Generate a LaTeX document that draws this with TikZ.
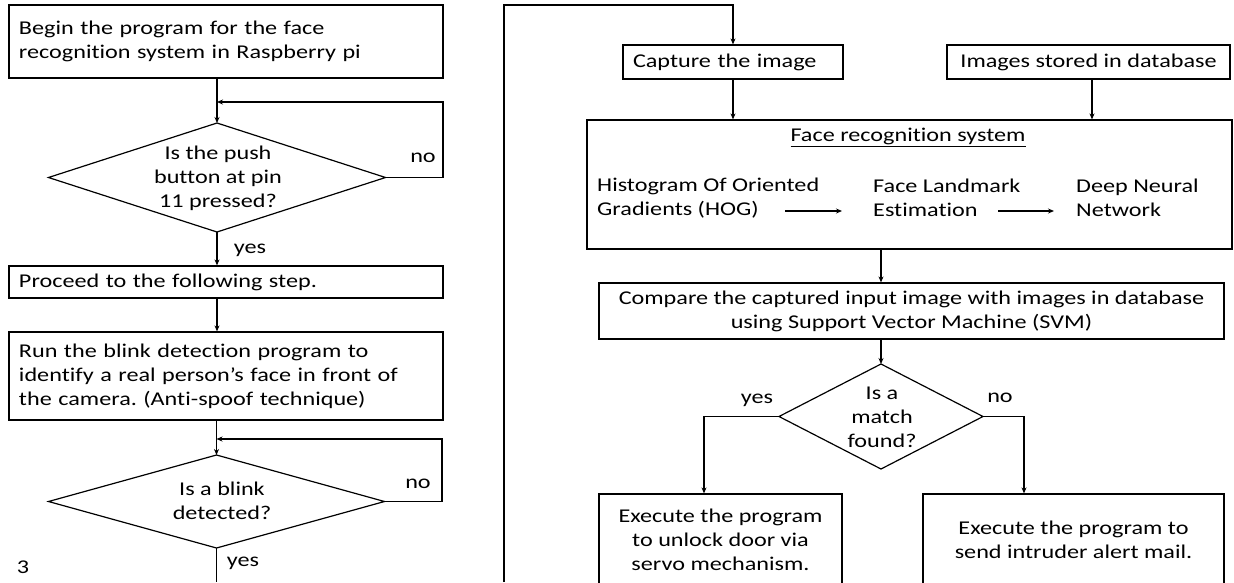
\documentclass[tikz,border=0pt]{standalone}
\usepackage{fontspec}
\setmainfont{Carlito}[FakeStretch=1.24,Ligatures=NoCommon]
\usetikzlibrary{arrows.meta,shapes.geometric}
\frenchspacing
\begin{document}
\begin{tikzpicture}[x=1pt,y=-1pt,
  ff/.style={font=\fontsize{19.5pt}{24pt}\selectfont},
  lbox/.style={ff,draw,rectangle,line width=1.2pt,inner xsep=10pt,inner ysep=0pt,align=left},
  cbox/.style={ff,draw,rectangle,line width=1.2pt,inner xsep=10pt,inner ysep=0pt,align=center},
  dia/.style={draw,diamond,line width=1.2pt,inner sep=0pt,outer sep=0pt},
  txt/.style={ff,inner sep=0pt,align=center},
  ltxt/.style={ff,inner sep=0pt,align=left,anchor=west},
  arr/.style={line width=1.2pt,-{Stealth[length=6pt,width=5pt]}},
  ln/.style={line width=1.2pt}]
\useasboundingbox (0,0) rectangle (1234,582);
\clip (0,0) rectangle (1234,582);
\fill[white] (0,0) rectangle (1234,582);

% ---------- left column ----------
\node[lbox,minimum width=434pt,minimum height=73pt,text width=414pt] (b1) at (226,41.5)
  {Begin the program for the face\\recognition system in Raspberry pi};
\node[dia,minimum width=337pt,minimum height=109pt] (d1) at (217,177.5) {};
\node[txt] (t1) at (218,178) {Is the push\\button at pin\\11 pressed?};
\node[lbox,minimum width=434pt,minimum height=32pt,text width=414pt] (b2) at (226,282)
  {Proceed to the following step.};
\node[lbox,minimum width=434pt,minimum height=88pt,text width=414pt] (b3) at (226,376)
  {Run the blink detection program to\\identify a real person’s face in front of\\the camera. (Anti-spoof technique)};
\node[dia,minimum width=336pt,minimum height=93pt] (d2) at (216.5,501.5) {};
\node[txt] (t2) at (222,501) {Is a blink\\detected?};

\node[txt] (no1) at (423,158) {no};
\node[txt] (yes1) at (250,250) {yes};
\node[txt] (no2) at (418,484) {no};
\node[txt] (yes2) at (243,563) {yes};
\node[txt] (pg) at (23,567) {3};

\coordinate (l1a) at (443,102);
\coordinate (l2a) at (442,439);
\coordinate (botL) at (216.5,582);
\coordinate (botR) at (504,582);
\coordinate (topR) at (504,5);

\draw[arr] (b1.south -| d1.north) -- (d1.north);
\draw[arr] (d1.east) -| (l1a) -- (l1a -| d1.north);
\draw[arr] (d1.south) -- (b2.north -| d1.south);
\draw[arr] (b2.south -| d1.south) -- (b3.north -| d1.south);
\draw[arr] (b3.south -| d2.north) -- (d2.north);
\draw[arr] (d2.east) -| (l2a) -- (l2a -| d2.north);
\draw[ln] (d2.south) -- (botL);

% ---------- right column ----------
\node[lbox,minimum width=220pt,minimum height=34pt,text width=200pt] (cap) at (733,62) {Capture the image};
\node[cbox,minimum width=283pt,minimum height=34pt] (img) at (1088.5,62) {Images stored in database};
\node[draw,rectangle,line width=1.2pt,minimum width=645pt,minimum height=129pt,inner sep=0pt] (face) at (909.5,184.5) {};
\node[txt] (ftitle) at (908,137) {\underline{Face recognition system}};
\node[ltxt] (hog) at (597,198) {Histogram Of Oriented\\Gradients (HOG)};
\node[ltxt] (flm) at (873,198) {Face Landmark\\Estimation};
\node[ltxt] (dnn) at (1076,198) {Deep Neural\\Network};
\coordinate (a1s) at (785,211);
\coordinate (a1e) at (842,211);
\coordinate (a2s) at (998,211);
\coordinate (a2e) at (1054,211);

\node[cbox,minimum width=625pt,minimum height=56pt] (cmp) at (911.5,311)
  {Compare the captured input image with images in database\\using Support Vector Machine (SVM)};
\node[dia,minimum width=204pt,minimum height=105pt] (d3) at (881,416.5) {};
\node[txt] (t3) at (882,417) {Is a\\match\\found?};
\node[txt] (yes3) at (757,400) {yes};
\node[txt] (no3) at (1000,398) {no};
\node[cbox,minimum width=243pt,minimum height=92pt] (b4) at (720.5,540)
  {Execute the program\\to unlock door via\\servo mechanism.};
\node[cbox,minimum width=301pt,minimum height=92pt] (b5) at (1073.5,540)
  {Execute the program to\\send intruder alert mail.};

\draw[arr] (botR) -- (topR) -| (cap.north);
\draw[arr] (cap.south) -- (cap.south |- face.north);
\draw[arr] ([xshift=3.5pt]img.south) -- ([xshift=3.5pt]img.south |- face.north);
\draw[arr] (a1s) -- (a1e);
\draw[arr] (a2s) -- (a2e);
\draw[arr] (face.south -| d3.north) -- (cmp.north -| d3.north);
\draw[arr] (cmp.south -| d3.north) -- (d3.north);
\draw[arr] (d3.west) -| ([xshift=-16.5pt]b4.north);
\draw[arr] (d3.east) -| ([xshift=-49.5pt]b5.north);
\end{tikzpicture}
\end{document}
